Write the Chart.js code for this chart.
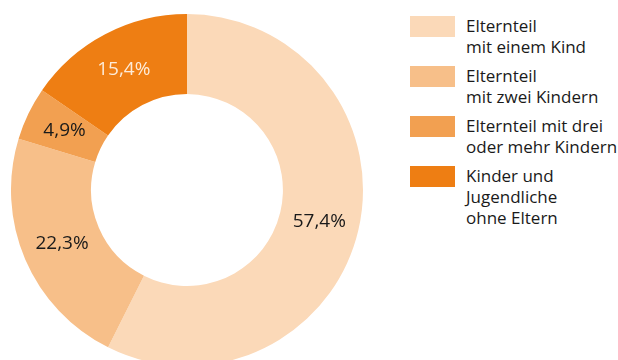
<!DOCTYPE html>
<html lang="de">
<head>
<meta charset="utf-8">
<script src="https://cdn.jsdelivr.net/npm/chart.js@4/dist/chart.umd.min.js"></script>
<style>
  html, body { margin: 0; padding: 0; background: #fff; }
  body { width: 618px; height: 360px; overflow: hidden; position: relative; font-family: "Open Sans", sans-serif; }
  #wrap { position: absolute; left: 11px; top: 14px; width: 352px; height: 352px; }
  #legend { position: absolute; left: 410px; top: 16px; margin: 0; padding: 0; list-style: none; }
  #legend li { position: relative; height: 50px; padding-left: 56px; }
  #legend .box { position: absolute; left: 0; top: 0; width: 45px; height: 21px; }
  #legend .txt { font-size: 17px; line-height: 21px; color: #1a1a1a; position: relative; top: -1px; white-space: nowrap; }
</style>
</head>
<body>
<div id="wrap"><canvas id="grafik"></canvas></div>
<ul id="legend"></ul>
<script>
// Anteile in Prozent, im Uhrzeigersinn ab 12 Uhr
const kategorien = [
  ["Elternteil", "mit einem Kind"],
  ["Elternteil", "mit zwei Kindern"],
  ["Elternteil mit drei", "oder mehr Kindern"],
  ["Kinder und", "Jugendliche", "ohne Eltern"]
];
const anteile = [57.4, 22.3, 4.9, 15.4];
const farben = ["#fbd9b8", "#f7bf89", "#f2a051", "#ee7e13"];
const textFarben = ["#1a1a1a", "#1a1a1a", "#1a1a1a", "#fdebd8"];

// Prozentwerte mittig in jedes Segment schreiben
const wertLabels = {
  id: "wertLabels",
  afterDatasetsDraw(chart) {
    const ctx = chart.ctx;
    const meta = chart.getDatasetMeta(0);
    ctx.save();
    ctx.font = "19px 'Open Sans', sans-serif";
    ctx.textAlign = "center";
    ctx.textBaseline = "middle";
    meta.data.forEach((arc, i) => {
      const p = arc.tooltipPosition();
      ctx.fillStyle = textFarben[i];
      ctx.fillText(anteile[i].toFixed(1).replace(".", ",") + "%", p.x, p.y);
    });
    ctx.restore();
  }
};

new Chart(document.getElementById("grafik"), {
  type: "doughnut",
  data: {
    labels: kategorien.map(k => k.join(" ")),
    datasets: [{
      data: anteile,
      backgroundColor: farben,
      borderWidth: 0
    }]
  },
  options: {
    responsive: true,
    maintainAspectRatio: false,
    animation: false,
    cutout: "54.5%",
    layout: { padding: 0 },
    plugins: {
      legend: { display: false },
      tooltip: { enabled: false }
    }
  },
  plugins: [wertLabels]
});

// Legende als HTML, damit mehrzeilige Beschriftungen möglich sind
const legend = document.getElementById("legend");
kategorien.forEach((zeilen, i) => {
  const li = document.createElement("li");
  li.innerHTML = '<span class="box" style="background:' + farben[i] + '"></span>' +
    '<div class="txt">' + zeilen.join("<br>") + "</div>";
  legend.appendChild(li);
});
</script>
</body>
</html>
